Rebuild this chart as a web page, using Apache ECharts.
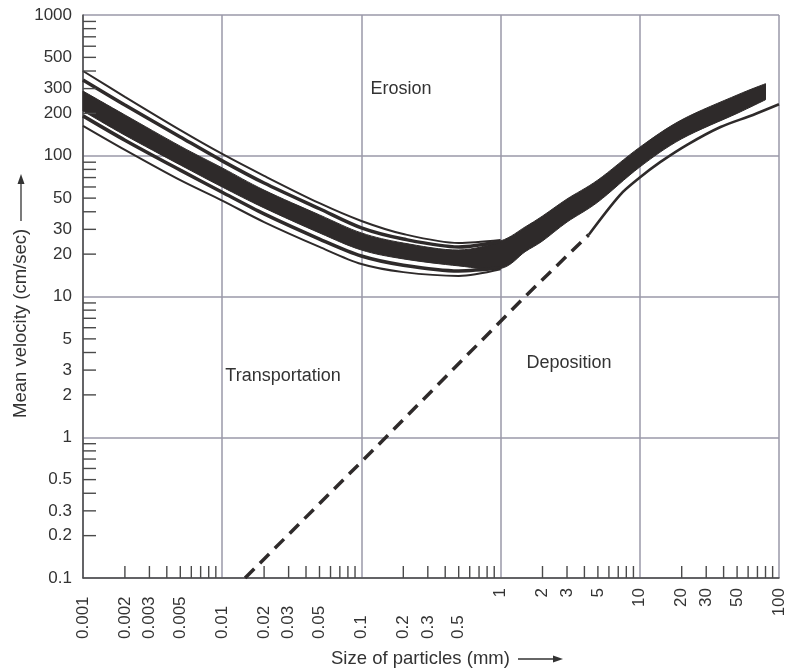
<!DOCTYPE html>
<html><head><meta charset="utf-8">
<script src="https://cdn.jsdelivr.net/npm/echarts@6/dist/echarts.min.js"></script>
<style>html,body{margin:0;padding:0;background:#fff}#c{width:787px;height:670px}</style>
</head><body><div id="c"></div>
<script>
// ---- data ----
const bandSize  = [0.001,0.002,0.005,0.01,0.02,0.05,0.1,0.2,0.5,1,1.5,2,3,5,10,20,50,80];
const bandUpper = [288,195,117,82,57,38,28.3,24.0,21.4,24.8,31.2,37.3,49.3,67.3,115,180,270,325];
const bandLower = [208,140,86,60,42.6,28.3,21.4,18.5,16.5,15.8,20.8,24.8,33.8,46.9,83.2,132,200,250];
const lineSize     = [0.001,0.002,0.005,0.01,0.02,0.05,0.1,0.2,0.5,1];
const erosionLine1 = [400,262,152,103,72,46,34.4,27.8,24.0,25.2];
const erosionLine2 = [345,229,136,92,64,42,30.7,25.6,22.5,24.6];
const erosionLine3 = [192,129,79,55,38.6,25.6,19.4,16.7,15.2,16.0];
const erosionLine4 = [163,110,67,48,33.8,22.5,17.0,14.9,14.0,15.6];
const depositionDashedSize = [0.0146,0.15,1.5,4.3];
const depositionDashedVel  = [0.1,1,10,27.5];
const depositionSolidSize  = [4.3,7.2,10,14,22,38,65,100];
const depositionSolidVel   = [27.5,52.6,70,90,120,160,195,232];
const xTickLabels = ['0.001','0.002','0.003','0.005','0.01','0.02','0.03','0.05','0.1','0.2','0.3','0.5','1','2','3','5','10','20','30','50','100'];
const yTickLabels = ['0.1','0.2','0.3','0.5','1','2','3','5','10','20','30','50','100','200','300','500','1000'];
const xDecades = [0.001,0.01,0.1,1,10];
const yDecades = [0.1,1,10,100];
const minorSteps = [2,3,4,5,6,7,8,9];
const regionLabels = ['Erosion','Transportation','Deposition'];

// ---- styling ----
const INK = '#2e2a2a', AXIS = '#4a4a4a', GRID = '#9a98a8', TXT = '#333';
const FONT = '"Liberation Sans", Arial, sans-serif';
const X_MIN = 0.001, X_MAX = 100, Y_MIN = 0.1, Y_MAX = 1000;

const pairs = (xs, ys) => xs.map((x, i) => [x, ys[i]]);
const minorOf = decs => { const out = []; decs.forEach(d => minorSteps.forEach(m => out.push(+(d * m).toPrecision(3)))); return out; };
const xMinor = minorOf(xDecades), yMinor = minorOf(yDecades);

// Catmull-Rom curve through screen points -> cubic bezier path segments
function curveSegs(pts) {
  let s = '';
  for (let i = 0; i < pts.length - 1; i++) {
    const p0 = pts[Math.max(0, i - 1)], p1 = pts[i], p2 = pts[i + 1], p3 = pts[Math.min(pts.length - 1, i + 2)];
    const c1 = [p1[0] + (p2[0] - p0[0]) / 6, p1[1] + (p2[1] - p0[1]) / 6];
    const c2 = [p2[0] - (p3[0] - p1[0]) / 6, p2[1] - (p3[1] - p1[1]) / 6];
    s += ' C' + c1[0].toFixed(2) + ' ' + c1[1].toFixed(2) + ' ' + c2[0].toFixed(2) + ' ' + c2[1].toFixed(2) + ' ' + p2[0].toFixed(2) + ' ' + p2[1].toFixed(2);
  }
  return s;
}

const chart = echarts.init(document.getElementById('c'), null, {renderer: 'canvas'});

const erosionLine = (vals, w) => ({
  type: 'line', data: pairs(lineSize, vals), smooth: 0.3, symbol: 'none', silent: true, z: 3,
  lineStyle: {color: INK, width: w}
});

chart.setOption({
  animation: false,
  backgroundColor: '#fff',
  grid: {left: 83, right: 8, top: 15, bottom: 92},
  xAxis: {
    type: 'log', logBase: 10, min: X_MIN, max: X_MAX,
    axisLine: {show: true, onZero: false, lineStyle: {color: AXIS, width: 1.5}},
    axisTick: {show: false}, axisLabel: {show: false},
    splitLine: {show: true, lineStyle: {color: GRID, width: 1.5}}
  },
  yAxis: {
    type: 'log', logBase: 10, min: Y_MIN, max: Y_MAX,
    axisLine: {show: true, onZero: false, lineStyle: {color: AXIS, width: 1.5}},
    axisTick: {show: false}, axisLabel: {show: false},
    splitLine: {show: true, lineStyle: {color: GRID, width: 1.5}}
  },
  graphic: [
    {type: 'text', x: 401, y: 89, style: {text: regionLabels[0], align: 'center', verticalAlign: 'middle', font: '18px ' + FONT, fill: TXT}},
    {type: 'text', x: 283, y: 376, style: {text: regionLabels[1], align: 'center', verticalAlign: 'middle', font: '18px ' + FONT, fill: TXT}},
    {type: 'text', x: 569, y: 363, style: {text: regionLabels[2], align: 'center', verticalAlign: 'middle', font: '18px ' + FONT, fill: TXT}},
    {type: 'text', x: 21, y: 418, rotation: Math.PI / 2, style: {text: 'Mean velocity (cm/sec)', align: 'left', verticalAlign: 'middle', font: '18.5px ' + FONT, fill: TXT}},
    {type: 'line', shape: {x1: 21, y1: 221, x2: 21, y2: 182}, style: {stroke: TXT, lineWidth: 1.3}},
    {type: 'polygon', shape: {points: [[21, 174], [17.5, 184], [24.5, 184]]}, style: {fill: TXT}},
    {type: 'text', x: 331, y: 659, style: {text: 'Size of particles (mm)', align: 'left', verticalAlign: 'middle', font: '18.5px ' + FONT, fill: TXT}},
    {type: 'line', shape: {x1: 518, y1: 659, x2: 555, y2: 659}, style: {stroke: TXT, lineWidth: 1.3}},
    {type: 'polygon', shape: {points: [[563, 659], [553, 655.5], [553, 662.5]]}, style: {fill: TXT}}
  ],
  series: [
    // erosion band (filled between upper and lower edges)
    {type: 'custom', coordinateSystem: 'cartesian2d', silent: true, z: 2,
     data: bandSize.map((x, i) => [x, bandLower[i], bandUpper[i]]),
     renderItem: (params, api) => {
       if (params.dataIndex !== 0) return null;
       const up = bandSize.map((x, i) => api.coord([x, bandUpper[i]]));
       const lo = bandSize.map((x, i) => api.coord([x, bandLower[i]])).reverse();
       const d = 'M' + up[0][0] + ' ' + up[0][1] + curveSegs(up) + ' L' + lo[0][0] + ' ' + lo[0][1] + curveSegs(lo) + ' Z';
       return {type: 'path', shape: {pathData: d}, style: {fill: INK, stroke: INK, lineWidth: 1}};
     }},
    erosionLine(erosionLine1, 2),
    erosionLine(erosionLine2, 3.5),
    erosionLine(erosionLine3, 3.5),
    erosionLine(erosionLine4, 2),
    {type: 'line', data: pairs(depositionDashedSize, depositionDashedVel), symbol: 'none', silent: true, z: 3,
     lineStyle: {color: INK, width: 3.5, type: [13, 8]}},
    {type: 'line', data: pairs(depositionSolidSize, depositionSolidVel), smooth: 0.3, symbol: 'none', silent: true, z: 3,
     lineStyle: {color: INK, width: 2.6}},
    // minor ticks on y axis (inside)
    {type: 'custom', coordinateSystem: 'cartesian2d', clip: false, silent: true, z: 4,
     data: yMinor.map(v => [X_MIN, v]),
     renderItem: (p, api) => { const c = api.coord([api.value(0), api.value(1)]);
       return {type: 'line', shape: {x1: c[0], y1: c[1], x2: c[0] + 13, y2: c[1]}, style: {stroke: AXIS, lineWidth: 1.4}}; }},
    // minor ticks on x axis (inside)
    {type: 'custom', coordinateSystem: 'cartesian2d', clip: false, silent: true, z: 4,
     data: xMinor.map(v => [v, Y_MIN]),
     renderItem: (p, api) => { const c = api.coord([api.value(0), api.value(1)]);
       return {type: 'line', shape: {x1: c[0], y1: c[1], x2: c[0], y2: c[1] - 12}, style: {stroke: AXIS, lineWidth: 1.4}}; }},
    // y labels
    {type: 'custom', coordinateSystem: 'cartesian2d', clip: false, silent: true, z: 4,
     data: yTickLabels.map(s => [X_MIN, Number(s)]),
     renderItem: (p, api) => { const c = api.coord([api.value(0), api.value(1)]);
       return {type: 'text', x: c[0] - 11, y: c[1], style: {text: yTickLabels[p.dataIndex], align: 'right', verticalAlign: 'middle', font: '17px ' + FONT, fill: TXT}}; }},
    // x labels (rotated)
    {type: 'custom', coordinateSystem: 'cartesian2d', clip: false, silent: true, z: 4,
     data: xTickLabels.map(s => [Number(s), Y_MIN]),
     renderItem: (p, api) => { const c = api.coord([api.value(0), api.value(1)]);
       const s = xTickLabels[p.dataIndex], small = Number(s) < 1;
       return {type: 'text', x: c[0], y: small ? c[1] + 61 : c[1] + 10, rotation: Math.PI / 2,
         style: {text: s, align: small ? 'left' : 'right', verticalAlign: 'middle', font: '17px ' + FONT, fill: TXT}}; }}
  ]
});
</script></body></html>
